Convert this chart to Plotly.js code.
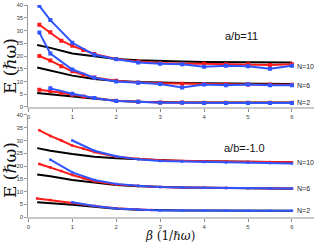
<!DOCTYPE html>
<html><head><meta charset="utf-8">
<script src="https://cdn.plot.ly/plotly-3.0.1.min.js"></script>
<style>html,body{margin:0;padding:0;background:#fff}#c{width:319px;height:242px}</style>
</head><body><div id="c"></div>
<script>
// ---- data: top panel (a/b=11) ----
const betaBlack = [0.2,0.5,1,1.5,2,2.5,3,3.5,4,4.5,5,5.5,6];
const betaRed = [0.25,0.5,0.75,1,1.25,1.5,2,2.5,3,3.5,4,4.5,5,5.5,6];
const betaBlueTop = [0.25,0.5,1,1.5,2,2.5,3,3.5,4,4.5,5,5.5,6];
const betaBlueTop2 = [0.5,1,1.5,2,2.5,3,3.5,4,4.5,5,5.5,6];

const black10Top = [24.3,23.2,21,19.8,18.8,18.3,18,17.8,17.7,17.6,17.5,17.6,17.5];
const black6Top = [15.5,14.3,12.3,11,10.2,9.8,9.5,9.4,9.3,9.2,9.2,9.1,9];
const black2Top = [5.5,5,4.1,3.2,2.4,2,1.8,1.8,1.8,1.8,1.8,1.8,1.8];
const red10Top = [32.3,29.3,26,24,22.4,20.8,18.8,17.8,17.3,17,17,16.8,16.8,16.5,16.8];
const red6Top = [20,18.2,16,14,12.6,11.6,10.3,9.6,9.3,9.1,9,8.9,8.8,8.8,8.7];
const red2Top = [6.8,6.3,5.6,4.8,4.1,3.5,2.4,2,1.8,1.8,1.7,1.7,1.7,1.7,1.7];
const blue10Top = [39.7,34.1,25.2,20.5,18.7,17.5,17,16.8,15.8,16.2,16,15,16.2];
const blue6Top = [29.2,21,14.7,11.5,10,9.5,9,7.6,8.8,8.5,8.8,8.5,8.5];
const blue2Top = [7.3,5.2,3.5,2.3,2,1.7,1.7,1.6,1.6,1.6,1.6,1.6];

// ---- data: bottom panel (a/b=-1.0) ----
const betaRed2Bot = [0.2,0.5,1,1.5,2,2.5,2.8];
const betaBlue10Bot = [1,1.5,2,2.5,3,3.5,4,4.5,5,5.5,6];
const betaBlue6Bot = [0.5,1,1.5,2,2.5,3,3.5,4,4.5,5,5.5,6];
const betaBlue2Bot = [1,1.5,2,2.5,3,3.5,4,4.5,5,5.5,6];

const black10Bot = [27,26,24.7,23.6,23,22.6,22.2,22,21.9,21.8,21.7,21.6,21.5];
const black6Bot = [16.7,16,14.5,13.5,12.6,12.1,11.8,11.6,11.5,11.4,11.3,11.2,11.1];
const black2Bot = [5.8,5.5,4.8,4,3.3,2.9,2.7,2.6,2.6,2.5,2.5,2.5,2.5];
const red10Bot = [34,31.8,30,28,26.8,25.5,23.6,22.8,22.3,22,21.9,21.8,21.7,21.6,21.5];
const red6Bot = [20.8,19.5,18,16.5,15.2,14,12.8,12.2,11.8,11.6,11.5,11.4,11.3,11.2,11.2];
const red2Bot = [7.3,6.7,5.5,4.3,3.5,3,2.8];
const blue10Bot = [30,26,23.8,22.6,22,21.8,21.6,21.4,21.3,21.2,21];
const blue6Bot = [22.5,17.5,14.5,13,12.3,11.8,11.6,11.5,11.4,11.3,11.2,11.2];
const blue2Bot = [5.8,4.3,3.4,2.9,2.6,2.6,2.5,2.5,2.5,2.5,2.5];

const xTicks = [0,1,2,3,4,5,6];
const yTicks = [0,5,10,15,20,25,30,35,40];
const nLabels = ['N=10','N=6','N=2'];
const nPosTop = [16,8.3,1.6];
const nPosBot = [21.2,11,2.7];
const panelLabels = ['a/b=11','a/b=-1.0'];

const BLACK='#000000', RED='#ff1a1a', BLUE='#2f55ff';
function ln(x,y,c,ax,mk){
  return {x:x,y:y,xaxis:ax[0],yaxis:ax[1],type:'scatter',mode:mk?'lines+markers':'lines',
    line:{color:c,width:2},marker:{color:c,size:mk||4,symbol:'square'},showlegend:false,hoverinfo:'skip'};
}
const T=['x','y'], B=['x2','y2'];
const data=[
  ln(betaBlack,black10Top,BLACK,T,0),
  ln(betaBlack,black6Top,BLACK,T,0),
  ln(betaBlack,black2Top,BLACK,T,0),
  ln(betaRed,red10Top,RED,T,4),
  ln(betaRed,red6Top,RED,T,4),
  ln(betaRed,red2Top,RED,T,4),
  ln(betaBlueTop,blue10Top,BLUE,T,4),
  ln(betaBlueTop,blue6Top,BLUE,T,4),
  ln(betaBlueTop2,blue2Top,BLUE,T,4),
  ln(betaBlack,black10Bot,BLACK,B,0),
  ln(betaBlack,black6Bot,BLACK,B,0),
  ln(betaBlack,black2Bot,BLACK,B,0),
  ln(betaRed,red10Bot,RED,B,2.5),
  ln(betaRed,red6Bot,RED,B,2.5),
  ln(betaRed2Bot,red2Bot,RED,B,2.5),
  ln(betaBlue10Bot,blue10Bot,BLUE,B,2.5),
  ln(betaBlue6Bot,blue6Bot,BLUE,B,2.5),
  ln(betaBlue2Bot,blue2Bot,BLUE,B,2.5)
];
const xax = {range:[0,6.5],tickvals:xTicks,showline:true,linecolor:'#c8c8c8',linewidth:2,
  ticks:'outside',ticklen:3,tickcolor:'#888',tickfont:{family:'Liberation Sans',size:6,color:'#444'},
  showgrid:false,zeroline:false,domain:[0.089,0.984]};
const yax = {range:[0,40],tickvals:yTicks,showline:true,linecolor:'#999',linewidth:1,
  ticks:'outside',ticklen:3,tickcolor:'#999',tickfont:{family:'Liberation Sans',size:6,color:'#444'},
  showgrid:false,zeroline:false};
const ann=[];
nLabels.forEach((t,i)=>{
  ann.push({x:6.07,y:nPosTop[i],xref:'x',yref:'y',text:t,showarrow:false,xanchor:'left',yanchor:'middle',font:{family:'Liberation Sans',size:7,color:'#222'}});
  ann.push({x:6.07,y:nPosBot[i],xref:'x2',yref:'y2',text:t,showarrow:false,xanchor:'left',yanchor:'middle',font:{family:'Liberation Sans',size:7,color:'#222'}});
});
ann.push({x:4.85,y:27.8,xref:'x',yref:'y',text:panelLabels[0],showarrow:false,xanchor:'center',yanchor:'middle',font:{family:'Liberation Sans',size:11,color:'#111'}});
ann.push({x:4.92,y:27,xref:'x2',yref:'y2',text:panelLabels[1],showarrow:false,xanchor:'center',yanchor:'middle',font:{family:'Liberation Sans',size:11,color:'#111'}});
ann.push({x:10/319,y:1-66/242,xref:'paper',yref:'paper',text:'E (ℏω)',textangle:-90,showarrow:false,xanchor:'center',yanchor:'middle',font:{family:'DejaVu Serif',size:17,color:'#111'}});
ann.push({x:10/319,y:1-170/242,xref:'paper',yref:'paper',text:'E (ℏω)',textangle:-90,showarrow:false,xanchor:'center',yanchor:'middle',font:{family:'DejaVu Serif',size:17,color:'#111'}});
ann.push({x:170/319,y:1-236/242,xref:'paper',yref:'paper',text:'<i>β</i> (1/<i>ℏω</i>)',showarrow:false,xanchor:'center',yanchor:'middle',font:{family:'DejaVu Serif',size:12,color:'#111'}});
const layout={width:319,height:242,margin:{l:0,r:0,t:0,b:0},paper_bgcolor:'#fff',plot_bgcolor:'#fff',
  xaxis:Object.assign({},xax,{anchor:'y'}),
  yaxis:Object.assign({},yax,{domain:[0.558,0.979],anchor:'x'}),
  xaxis2:Object.assign({},xax,{anchor:'y2'}),
  yaxis2:Object.assign({},yax,{domain:[0.103,0.525],anchor:'x2'}),
  annotations:ann};
Plotly.newPlot('c',data,layout,{staticPlot:true,displayModeBar:false});
</script></body></html>
